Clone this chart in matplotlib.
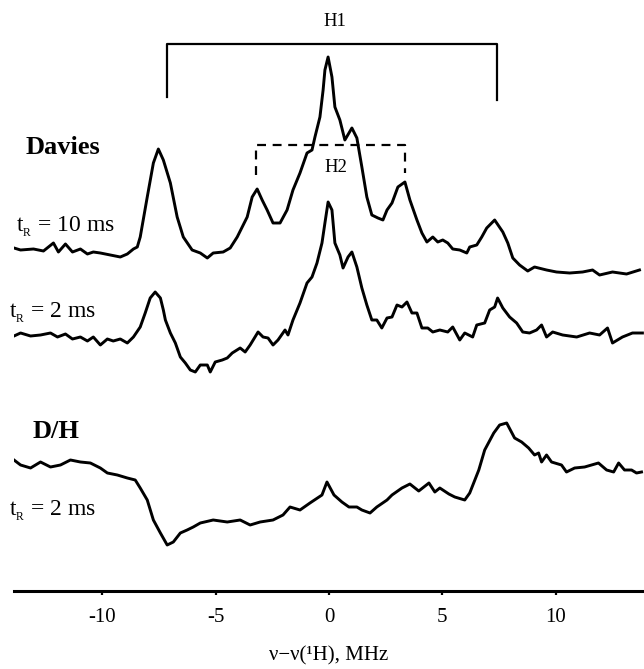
import matplotlib
matplotlib.use('Agg')
import matplotlib.pyplot as plt

plt.rcParams['font.family'] = ['Liberation Serif', 'DejaVu Serif']
plt.rcParams['mathtext.fontset'] = 'custom'
plt.rcParams['mathtext.rm'] = 'Liberation Serif'
plt.rcParams['mathtext.it'] = 'Liberation Serif:italic'

# Davies, tR = 10 ms  (frequency offset in MHz, intensity in arb. units)
davies10_x = [-13.9, -13.61, -13.04, -12.6, -12.16, -11.94, -11.63, -11.32, -10.97, -10.66,
              -10.4, -10.09, -9.65, -9.21, -8.9, -8.63, -8.46, -8.33, -8.02, -7.75,
              -7.53, -7.31, -7.0, -6.7, -6.43, -6.04, -5.68, -5.37, -5.11, -4.67,
              -4.36, -4.05, -3.61, -3.39, -3.17, -2.95, -2.73, -2.47, -2.16, -1.85,
              -1.59, -1.28, -0.97, -0.75, -0.62, -0.4, -0.26, -0.18, -0.04, 0.13,
              0.26, 0.48, 0.7, 1.01, 1.23, 1.45, 1.67, 1.89, 2.16, 2.38,
              2.56, 2.78, 3.04, 3.35, 3.57, 3.88, 4.1, 4.32, 4.58, 4.8,
              5.02, 5.24, 5.46, 5.77, 6.08, 6.21, 6.52, 6.74, 6.96, 7.31,
              7.67, 7.89, 8.11, 8.41, 8.77, 9.07, 9.6, 10.04, 10.62, 11.19,
              11.63, 11.94, 12.51, 13.13, 13.7]
davies10_y = [4, 2, 3, 1, 9, 0, 8, 0, 3, -2,
              0, -1, -3, -5, -2, 3, 5, 15, 55, 89,
              103, 92, 69, 35, 15, 2, -1, -6, -1, 0,
              4, 15, 35, 55, 63, 52, 42, 29, 29, 42,
              62, 79, 99, 102, 115, 135, 162, 182, 195, 175,
              145, 132, 112, 124, 114, 85, 55, 37, 34, 32,
              42, 49, 65, 70, 52, 32, 19, 10, 15, 10,
              12, 9, 3, 2, -1, 5, 7, 15, 24, 32,
              20, 9, -6, -13, -19, -15, -18, -20, -21, -20,
              -18, -23, -20, -22, -18]

# Davies, tR = 2 ms
davies2_x = [-13.9, -13.61, -13.17, -12.73, -12.29, -11.98, -11.63, -11.32, -10.97, -10.66,
             -10.4, -10.09, -9.78, -9.52, -9.21, -8.9, -8.63, -8.33, -8.11, -7.89,
             -7.67, -7.44, -7.31, -7.22, -7.0, -6.78, -6.56, -6.34, -6.12, -5.9,
             -5.68, -5.37, -5.24, -5.02, -4.71, -4.49, -4.27, -3.92, -3.7, -3.48,
             -3.13, -2.91, -2.69, -2.47, -2.25, -1.94, -1.81, -1.59, -1.28, -0.97,
             -0.75, -0.53, -0.31, -0.18, -0.04, 0.13, 0.26, 0.48, 0.62, 0.84,
             1.01, 1.23, 1.45, 1.67, 1.89, 2.11, 2.33, 2.56, 2.78, 3.0,
             3.22, 3.44, 3.66, 3.88, 4.1, 4.36, 4.58, 4.89, 5.24, 5.46,
             5.77, 5.99, 6.34, 6.52, 6.87, 7.09, 7.31, 7.44, 7.67, 7.97,
             8.28, 8.55, 8.85, 9.16, 9.38, 9.6, 9.87, 10.31, 10.93, 11.5,
             11.94, 12.29, 12.51, 12.95, 13.39, 13.83]
davies2_y = [1, 4, 1, 2, 4, 0, 3, -2, 0, -4,
             0, -8, -2, -4, -2, -6, 0, 10, 24, 39,
             45, 39, 27, 17, 4, -6, -20, -26, -33, -35,
             -28, -28, -35, -25, -23, -21, -16, -11, -15, -8,
             5, 0, -1, -8, -3, 7, 2, 17, 34, 54,
             60, 74, 94, 114, 135, 127, 94, 82, 69, 80,
             85, 70, 49, 32, 17, 17, 9, 19, 20, 32,
             30, 35, 24, 24, 9, 9, 5, 7, 5, 10,
             -3, 4, 0, 12, 14, 27, 30, 39, 29, 20,
             14, 5, 4, 7, 12, 0, 5, 2, 0, 4,
             2, 9, -6, 0, 4, 4]

# D/H, tR = 2 ms
dh_x = [-13.9, -13.61, -13.17, -12.73, -12.29, -11.85, -11.41, -10.97, -10.53, -10.09,
        -9.78, -9.34, -8.9, -8.55, -8.33, -8.02, -7.75, -7.44, -7.14, -6.87,
        -6.56, -6.26, -5.99, -5.68, -5.11, -4.49, -3.92, -3.48, -3.04, -2.47,
        -2.03, -1.72, -1.28, -0.84, -0.31, -0.09, 0.22, 0.57, 0.88, 1.23,
        1.45, 1.81, 2.11, 2.56, 2.78, 3.22, 3.57, 3.96, 4.41, 4.67,
        4.89, 5.29, 5.55, 5.99, 6.21, 6.61, 6.87, 7.27, 7.53, 7.84,
        8.19, 8.5, 8.81, 9.07, 9.25, 9.38, 9.6, 9.82, 10.26, 10.48,
        10.84, 11.28, 11.89, 12.25, 12.56, 12.78, 13.04, 13.35, 13.57, 13.79]
dh_y = [5, 0, -3, 3, -2, 0, 5, 3, 2, -3,
        -8, -10, -13, -15, -23, -35, -55, -68, -80, -77,
        -68, -65, -62, -58, -55, -57, -55, -60, -57, -55,
        -50, -42, -45, -38, -30, -17, -30, -37, -42, -42,
        -45, -48, -42, -35, -30, -23, -19, -26, -18, -27,
        -23, -29, -32, -35, -28, -5, 15, 32, 40, 42,
        27, 23, 17, 10, 12, 3, 10, 3, 0, -7,
        -3, -2, 2, -5, -7, 2, -5, -5, -8, -7]

xticks = [-10, -5, 0, 5, 10]

fig = plt.figure(figsize=(6.44, 6.69), dpi=100)
ax = fig.add_axes([14/644, 78/669, 630/644, 591/669])

lw = 2.1
ax.plot(davies10_x, [339 + v for v in davies10_y], color='black', lw=lw)
ax.plot(davies2_x, [254 + v for v in davies2_y], color='black', lw=lw)
ax.plot(dh_x, [126 + v for v in dh_y], color='black', lw=lw)

# H1 bracket (solid) and H2 bracket (dashed)
ax.plot([-7.15, -7.15, 7.4, 7.4], [494, 547, 547, 491], color='black', lw=1.6)
ax.plot([-3.2, -3.2, 3.35, 3.35], [416, 446, 446, 418], color='black', lw=1.6,
        dashes=(4, 3))
ax.text(0.26, 569, 'H1', ha='center', va='center', fontsize=13.5)
ax.text(0.31, 424, 'H2', ha='center', va='center', fontsize=13.5)

ax.text(-13.39, 443, 'Davies', ha='left', va='center', fontsize=19, fontweight='bold')
ax.text(-13.83, 364, r'$\mathrm{t_{_R}}$ = 10 ms', ha='left', va='center', fontsize=17)
ax.text(-14.1, 278, r'$\mathrm{t_{_R}}$ = 2 ms', ha='left', va='center', fontsize=17)
ax.text(-13.08, 159, 'D/H', ha='left', va='center', fontsize=19, fontweight='bold')
ax.text(-14.1, 80, r'$\mathrm{t_{_R}}$ = 2 ms', ha='left', va='center', fontsize=17)

ax.set_xlim(-13.9, 13.9)
ax.set_ylim(0, 591)
ax.set_xticks(xticks)
ax.set_xticklabels([str(t) for t in xticks])
ax.set_yticks([])
for s in ['top', 'right', 'left']:
    ax.spines[s].set_visible(False)
ax.spines['bottom'].set_linewidth(2.2)
ax.tick_params(axis='x', direction='out', length=3, width=1.6, pad=9, labelsize=15)
ax.set_xlabel('ν−ν(¹H), MHz', fontsize=15, labelpad=14)

fig.savefig('out.png', dpi=100)
